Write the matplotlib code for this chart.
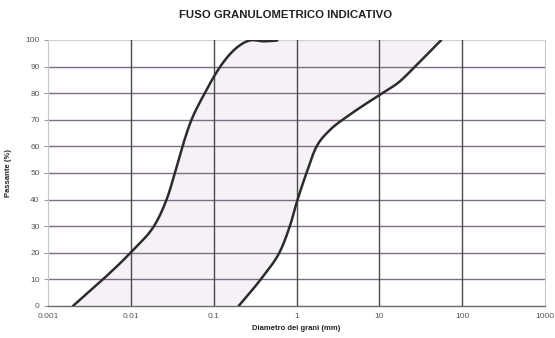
import matplotlib
matplotlib.use("Agg")
import matplotlib.pyplot as plt
import numpy as np

# Grading envelope: lower (fine) and upper (coarse) limits
fine_d = [0.0020, 0.0046, 0.0099, 0.019, 0.027, 0.034, 0.042, 0.054, 0.078, 0.12, 0.18, 0.27, 0.40, 0.586]
fine_p = [0, 10, 20, 30, 40, 50, 60, 70, 80, 90, 96.5, 99.8, 99.5, 99.8]

coarse_d = [0.20, 0.37, 0.62, 0.83, 1.03, 1.32, 1.75, 2.5, 4.2, 10, 17, 27, 56]
coarse_p = [0, 10, 20, 30, 40, 50, 60, 66, 71.5, 79.3, 84.0, 90, 100]

x_ticks = [0.001, 0.01, 0.1, 1, 10, 100, 1000]
x_labels = ["0.001", "0.01", "0.1", "1", "10", "100", "1000"]
y_ticks = [0, 10, 20, 30, 40, 50, 60, 70, 80, 90, 100]


def smooth_curve(d, p, n=24):
    """Centripetal Catmull-Rom through the points, in log-diameter space."""
    pts = np.column_stack([np.log10(d) * 10.0, np.asarray(p, float) / 10.0])
    ext = np.vstack([2 * pts[0] - pts[1], pts, 2 * pts[-1] - pts[-2]])
    out = []
    for i in range(1, len(ext) - 2):
        p0, p1, p2, p3 = ext[i - 1], ext[i], ext[i + 1], ext[i + 2]
        t0 = 0.0
        t1 = t0 + np.linalg.norm(p1 - p0) ** 0.5
        t2 = t1 + np.linalg.norm(p2 - p1) ** 0.5
        t3 = t2 + np.linalg.norm(p3 - p2) ** 0.5
        t = np.linspace(t1, t2, n)[:, None]
        a1 = (t1 - t) / (t1 - t0) * p0 + (t - t0) / (t1 - t0) * p1
        a2 = (t2 - t) / (t2 - t1) * p1 + (t - t1) / (t2 - t1) * p2
        a3 = (t3 - t) / (t3 - t2) * p2 + (t - t2) / (t3 - t2) * p3
        b1 = (t2 - t) / (t2 - t0) * a1 + (t - t0) / (t2 - t0) * a2
        b2 = (t3 - t) / (t3 - t1) * a2 + (t - t1) / (t3 - t1) * a3
        c = (t2 - t) / (t2 - t1) * b1 + (t - t1) / (t2 - t1) * b2
        out.append(c if i == 1 else c[1:])
    c = np.vstack(out)
    return 10 ** (c[:, 0] / 10.0), c[:, 1] * 10.0


plt.rcParams["font.family"] = ["Liberation Sans", "DejaVu Sans"]

fig = plt.figure(figsize=(5.55, 3.38), dpi=100)
ax = fig.add_axes([0.0865, 0.0947, 0.8955, 0.787])

ax.set_xscale("log")
ax.set_xlim(0.001, 1000)
ax.set_ylim(0, 100)

fx, fy = smooth_curve(fine_d, fine_p)
cx, cy = smooth_curve(coarse_d, coarse_p)

# shaded band between the two limits
p_grid = np.linspace(0, 100, 300)
k = int(np.argmax(fy >= 99.0))
fd = 10 ** np.interp(p_grid, fy[:k + 1], np.log10(fx[:k + 1]))
cd = 10 ** np.interp(p_grid, cy, np.log10(cx))
ax.fill_betweenx(p_grid, fd, cd, color="#f6f1f6", zorder=0, lw=0)

# grid
for y in y_ticks[1:-1]:
    ax.axhline(y, color="#7e6c84", lw=1.0, zorder=1)
ax.axhline(100, color="#d6d0d8", lw=1.0, zorder=1)
for x in x_ticks[1:-1]:
    ax.axvline(x, color="#4a4a4a", lw=1.0, zorder=1)

ax.plot(fx, fy, color="#2c2c2c", lw=1.8, zorder=3, solid_capstyle="round")
ax.plot(cx, cy, color="#2c2c2c", lw=1.8, zorder=3, solid_capstyle="round")

ax.spines["top"].set_visible(False)
ax.spines["right"].set_color("#c8c8cc")
ax.spines["left"].set_color("#c8c8cc")
ax.spines["bottom"].set_color("#6a6a6a")
ax.spines["bottom"].set_linewidth(1.0)

ax.set_xticks(x_ticks)
ax.set_xticklabels(x_labels)
ax.xaxis.set_minor_locator(matplotlib.ticker.NullLocator())
ax.set_yticks(y_ticks)
ax.tick_params(axis="both", labelsize=6, colors="#555555", length=0, pad=5)
ax.tick_params(axis="y", length=3, color="#999999", pad=3)

ax.set_xlabel("Diametro dei grani (mm)", fontsize=5.5, fontweight="bold", color="#222222", labelpad=4)
ax.set_ylabel("Passante (%)", fontsize=5.5, fontweight="bold", color="#222222", labelpad=10)

fig.text(0.514, 0.955, "FUSO GRANULOMETRICO INDICATIVO", ha="center", va="center",
         fontsize=8.2, fontweight="bold", color="#222222")

fig.savefig("out.png", dpi=100)
